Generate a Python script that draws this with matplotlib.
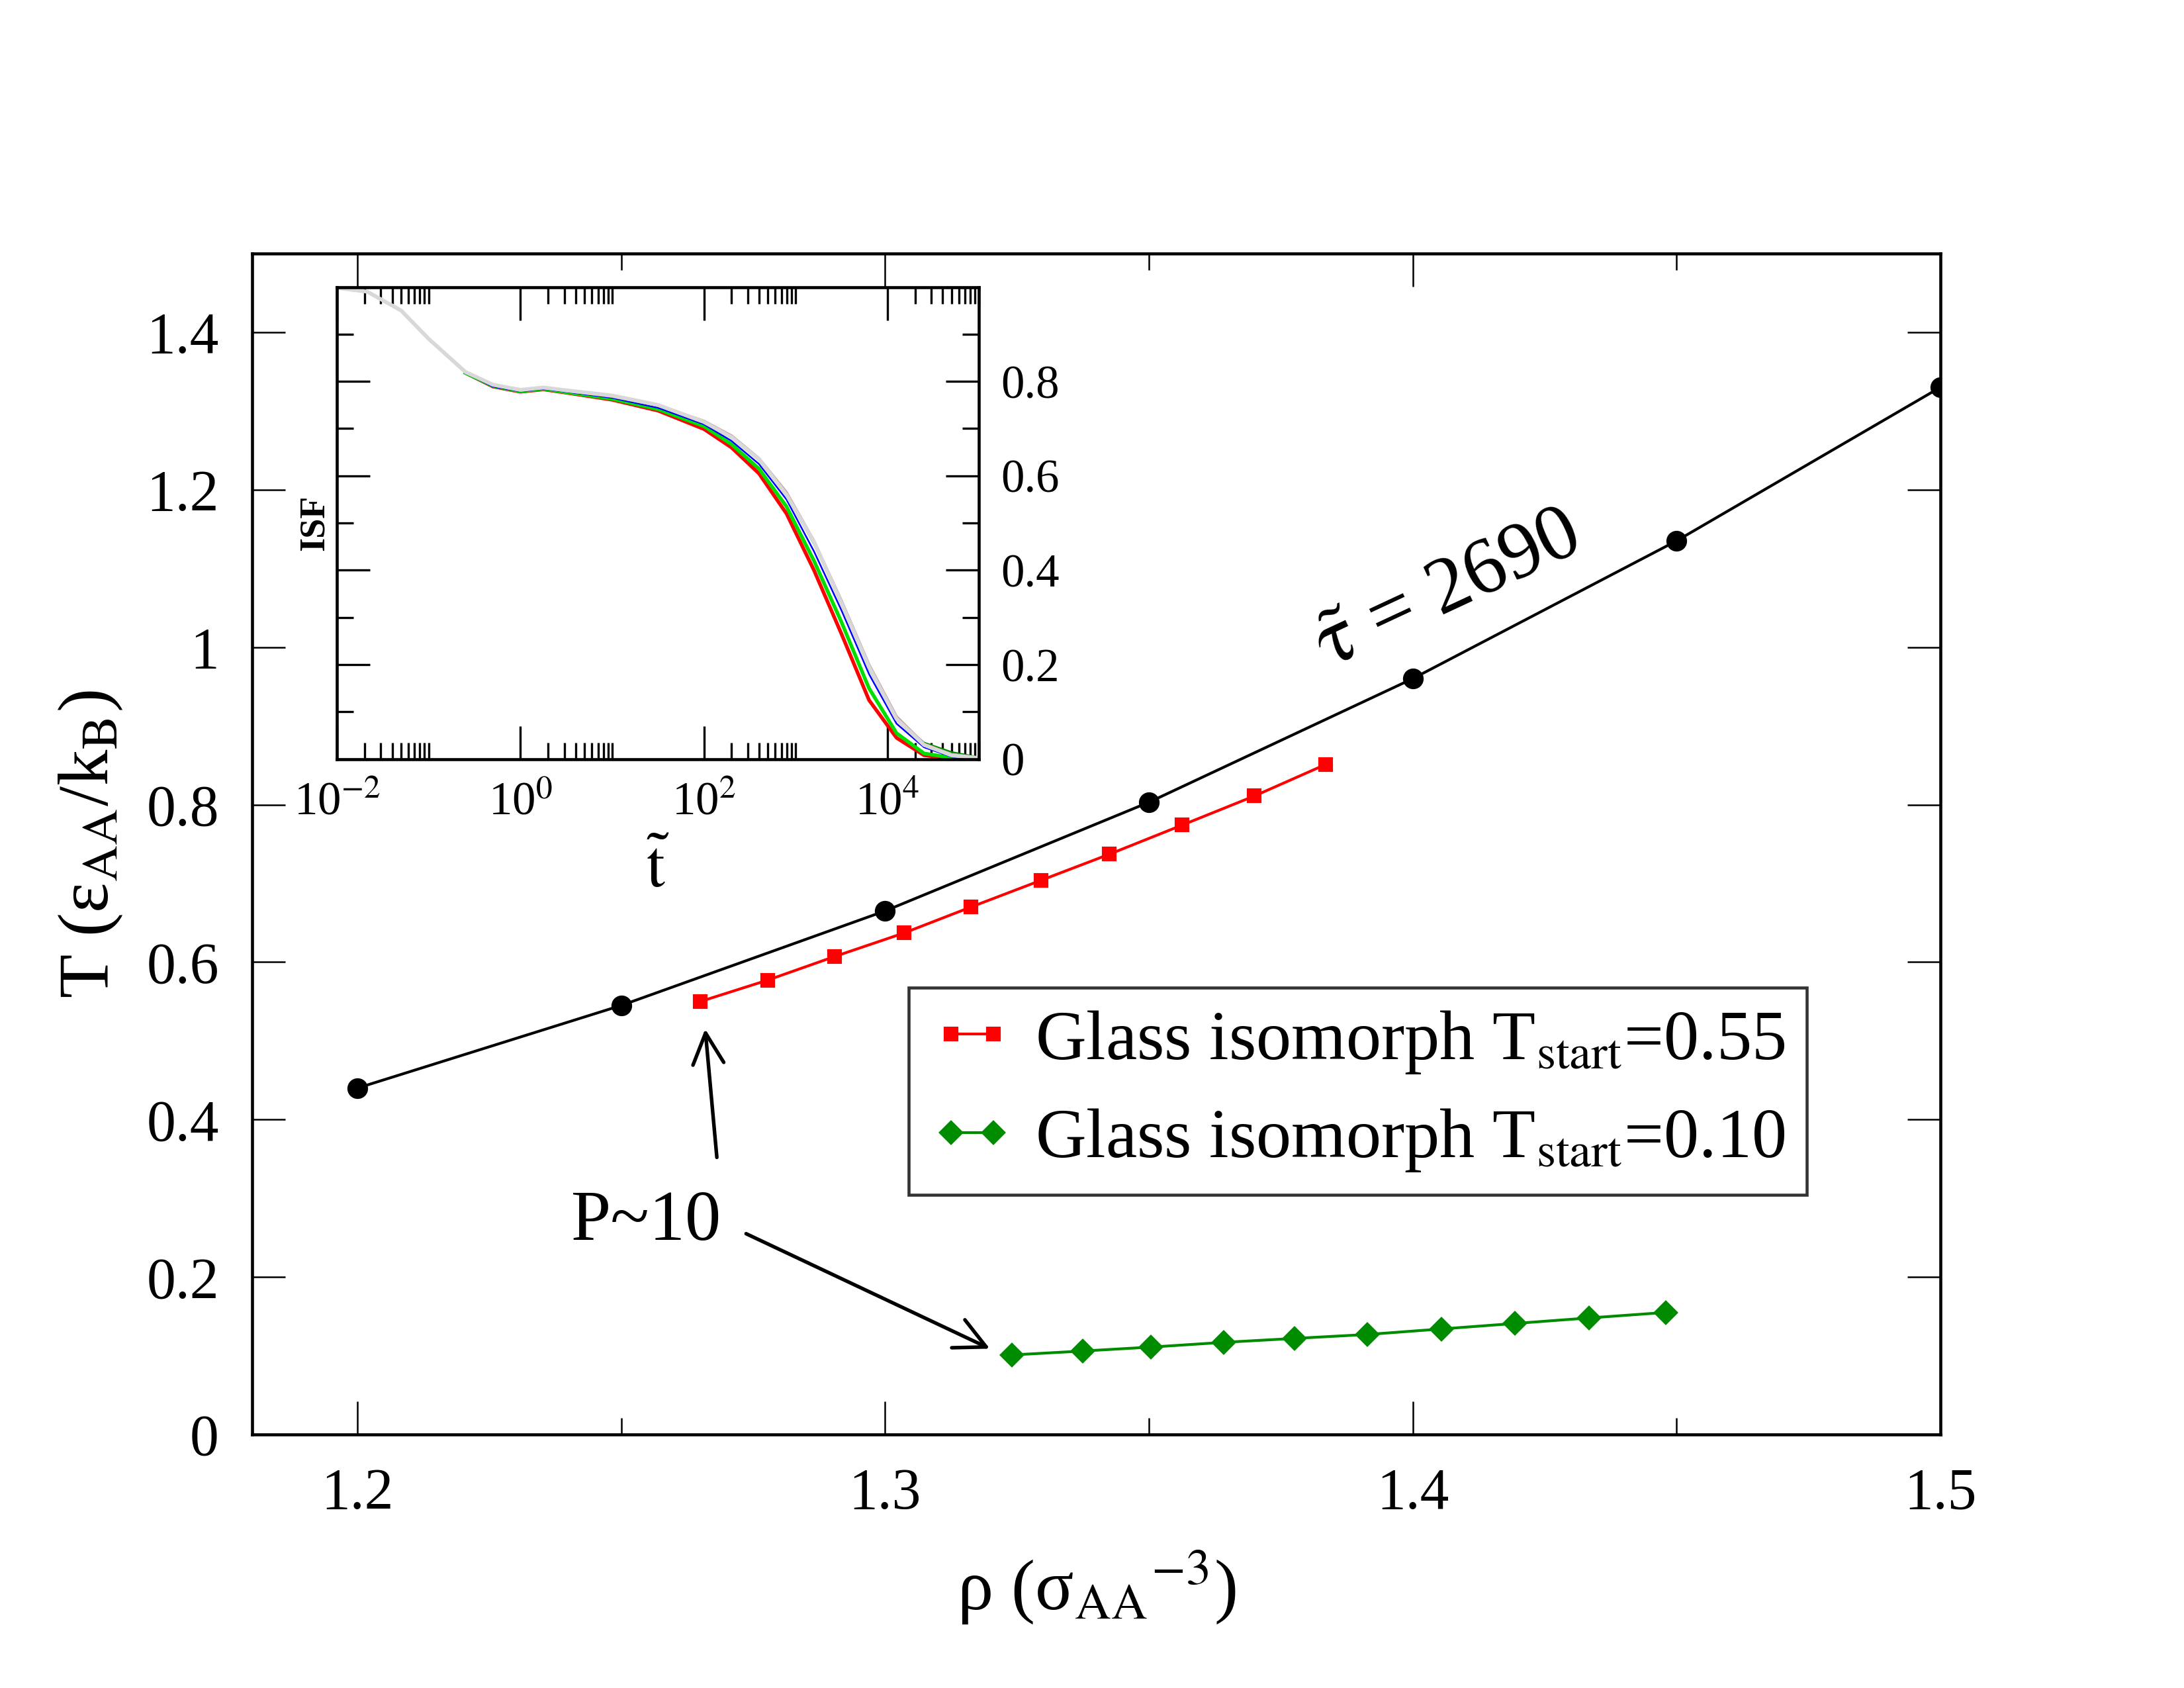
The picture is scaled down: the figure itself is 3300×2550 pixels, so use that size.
import numpy as np
import matplotlib
matplotlib.use("Agg")
import matplotlib.pyplot as plt
from matplotlib.ticker import FixedLocator, MultipleLocator, NullFormatter

plt.rcParams['font.family'] = 'serif'
plt.rcParams['font.serif'] = ['Liberation Serif', 'DejaVu Serif']
plt.rcParams['mathtext.fontset'] = 'stix'

# main panel data
rho_tau = [1.20, 1.25, 1.30, 1.35, 1.40, 1.45, 1.50]
T_tau = [0.440, 0.545, 0.665, 0.803, 0.960, 1.135, 1.330]

rho_g055 = [1.2650, 1.2777, 1.2904, 1.3036, 1.3163, 1.3296, 1.3425, 1.3563, 1.3700, 1.3835]
T_g055 = [0.550, 0.577, 0.607, 0.637, 0.670, 0.704, 0.737, 0.774, 0.811, 0.851]

rho_g010 = [1.3240, 1.3375, 1.3504, 1.3642, 1.3776, 1.3914, 1.4054, 1.4194, 1.4334, 1.4480]
T_g010 = [0.101, 0.106, 0.111, 0.117, 0.122, 0.127, 0.134, 0.141, 0.148, 0.155]

# inset data: log10(t~) and ISF
logt_long = [-2.0, -1.67, -1.3, -1.0, -0.6, -0.3, 0.0, 0.25, 0.5, 1.0, 1.5, 2.0, 2.3,
             2.6, 2.9, 3.2, 3.5, 3.8, 4.1, 4.4, 4.7, 5.0]
isf_gray = [0.998, 0.990, 0.950, 0.890, 0.820, 0.793, 0.782, 0.787, 0.781, 0.770, 0.750,
            0.714, 0.682, 0.635, 0.560, 0.460, 0.330, 0.195, 0.085, 0.030, 0.008, 0.002]

logt = [-0.6, -0.3, 0.0, 0.25, 0.5, 1.0, 1.5, 2.0, 2.3, 2.6, 2.9, 3.2, 3.5, 3.8, 4.1,
        4.4, 4.7, 5.0]
isf_red = [0.818, 0.789, 0.778, 0.783, 0.776, 0.761, 0.738, 0.699, 0.660, 0.605, 0.520,
           0.400, 0.265, 0.125, 0.045, 0.008, 0.001, 0.000]
isf_green = [0.818, 0.790, 0.779, 0.784, 0.777, 0.763, 0.741, 0.705, 0.667, 0.615, 0.535,
             0.420, 0.290, 0.150, 0.055, 0.012, 0.003, 0.000]
isf_blue = [0.818, 0.789, 0.779, 0.784, 0.778, 0.765, 0.744, 0.709, 0.674, 0.625, 0.550,
            0.440, 0.315, 0.180, 0.075, 0.025, 0.005, 0.001]
isf_dkgreen = [0.821, 0.792, 0.781, 0.787, 0.780, 0.768, 0.748, 0.715, 0.684, 0.635, 0.560,
               0.455, 0.330, 0.190, 0.085, 0.035, 0.015, 0.004]
isf_brown = [0.820, 0.792, 0.781, 0.787, 0.780, 0.768, 0.749, 0.716, 0.685, 0.637, 0.565,
             0.462, 0.335, 0.200, 0.090, 0.032, 0.010, 0.003]

fig = plt.figure(figsize=(11, 8.5), dpi=300)
ax = fig.add_axes([0.1154, 0.1502, 0.7730, 0.6996])

ax.plot(rho_tau, T_tau, '-o', color='black', lw=1.0, ms=6.5, zorder=3)
ax.plot(rho_g055, T_g055, '-s', color='#ff0000', lw=1.0, ms=4.5, zorder=3,
        label=r'Glass isomorph T$_{\rm start}$=0.55')
ax.plot(rho_g010, T_g010, '-D', color='#008c00', lw=1.0, ms=5.5, zorder=3,
        label=r'Glass isomorph T$_{\rm start}$=0.10')

ax.set_xlim(1.18, 1.5)
ax.set_ylim(0, 1.5)
ax.xaxis.set_major_locator(FixedLocator([1.2, 1.3, 1.4, 1.5]))
ax.xaxis.set_minor_locator(FixedLocator([1.25, 1.35, 1.45]))
ax.yaxis.set_major_locator(FixedLocator([0, 0.2, 0.4, 0.6, 0.8, 1.0, 1.2, 1.4]))
ax.set_yticklabels(['0', '0.2', '0.4', '0.6', '0.8', '1', '1.2', '1.4'])
ax.tick_params(which='both', direction='in', top=True, right=True, width=0.6,
               labelsize=21)
ax.tick_params(which='major', length=12, pad=12)
ax.tick_params(which='minor', length=6)
for s in ax.spines.values():
    s.set_linewidth(1.1)

ax.set_xlabel(r'ρ (σ$_{\rm AA}{}^{-3}$)', fontsize=26, labelpad=10)
ax.set_ylabel(r'T (ε$_{\rm AA}$/k$_{\rm B}$)', fontsize=26, labelpad=8)

ax.text(1.4067, 1.07, r'$\tilde{\mathrm{\tau}}$ = 2690', fontsize=29, rotation=25,
        ha='center', va='center')

ax.text(1.2547, 0.269, 'P~10', fontsize=26, ha='center', va='center')
ax.annotate('', xy=(1.2658, 0.522), xytext=(1.2682, 0.345),
            arrowprops=dict(arrowstyle='->', lw=1.3, color='black', mutation_scale=28))
ax.annotate('', xy=(1.3208, 0.106), xytext=(1.2727, 0.258),
            arrowprops=dict(arrowstyle='->', lw=1.3, color='black', mutation_scale=28))

leg = ax.legend(loc='upper left', bbox_to_anchor=(0.389, 0.3785), fontsize=25.5,
                frameon=True, fancybox=False, numpoints=2, handlelength=1.2,
                handletextpad=0.3, borderpad=0.3, labelspacing=0.45,
                borderaxespad=0)
leg.get_frame().set_edgecolor('black')
leg.get_frame().set_linewidth(1.1)

# inset
axi = fig.add_axes([0.1543, 0.5503, 0.2940, 0.2797])
t_long = [10 ** v for v in logt_long]
t = [10 ** v for v in logt]
axi.plot(t, isf_red, color='#ff0000', lw=1.3)
axi.plot(t, isf_green, color='#00e000', lw=1.3)
axi.plot(t, isf_blue, color='#0000ff', lw=0.6)
axi.plot(t, isf_dkgreen, color='#008c00', lw=0.6)
axi.plot(t, isf_brown, color='#c0a0a0', lw=1.0)
axi.plot(t_long, isf_gray, color='#d8d8d8', lw=1.4)

axi.set_xscale('log')
axi.set_xlim(1e-2, 1e5)
axi.set_ylim(0, 1)
axi.xaxis.set_major_locator(FixedLocator([1e-2, 1e0, 1e2, 1e4]))
minor = [k * 10.0 ** d for d in (-2, 0, 2, 4) for k in range(2, 11)]
axi.xaxis.set_minor_locator(FixedLocator(minor))
axi.xaxis.set_minor_formatter(NullFormatter())
axi.set_xticklabels([r'10$^{-2}$', r'10$^{0}$', r'10$^{2}$', r'10$^{4}$'])
axi.yaxis.set_major_locator(FixedLocator([0, 0.2, 0.4, 0.6, 0.8, 1.0]))
axi.yaxis.set_minor_locator(MultipleLocator(0.1))
axi.set_yticklabels(['0', '0.2', '0.4', '0.6', '0.8', ''])
axi.tick_params(which='both', direction='in', top=True, right=True, left=True,
                labelleft=False, labelright=True, width=0.8, labelsize=17)
axi.tick_params(which='major', length=12, pad=8)
axi.tick_params(which='minor', length=6)
for s in axi.spines.values():
    s.set_linewidth(1.1)
axi.set_ylabel('ISF', fontsize=13, fontweight='bold', labelpad=2)
axi.set_xlabel(r'$\tilde{\mathrm{t}}$', fontsize=24, labelpad=6)

fig.savefig('out.png', dpi=300)
